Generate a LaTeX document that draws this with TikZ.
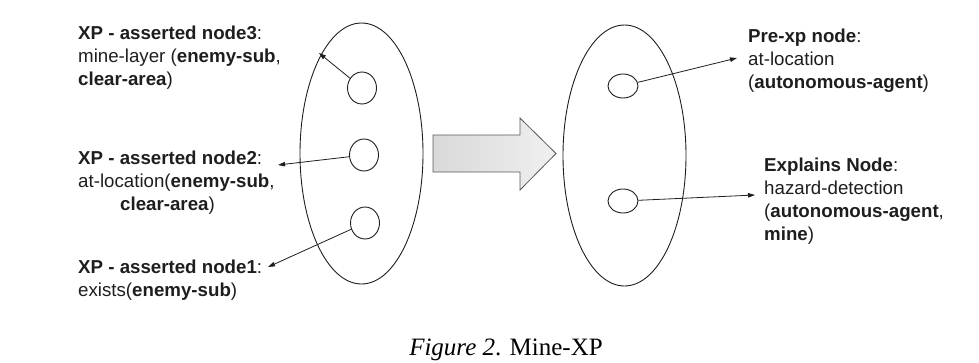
\documentclass[tikz,border=0pt]{standalone}
\usepackage{fontspec}
\setmainfont{Liberation Sans}
\newfontfamily\capfont{Liberation Serif}
\usetikzlibrary{shapes.geometric,arrows.meta}
\definecolor{ink}{HTML}{1E1E1E}
\tikzset{
  bigell/.style={ellipse,draw=ink,line width=0.9pt,inner sep=0pt,minimum width=123pt,minimum height=261pt},
  smallell/.style={ellipse,draw=ink,line width=0.9pt,inner sep=0pt},
  lbl/.style={anchor=north west,inner sep=0pt,align=left,text=ink,font=\fontsize{18.7}{23}\selectfont},
  conn/.style={draw=ink,line width=0.8pt,-{Triangle[length=7pt,width=4.5pt]}},
}
\begin{document}
\begin{tikzpicture}[x=1pt,y=-1pt]
\useasboundingbox (0,0) rectangle (979,362);
% big ellipses
\node[bigell] (L) at (361.5,153.5) {};
\node[bigell] (R) at (624.5,155.5) {};
% small ellipses
\node[smallell,minimum width=29pt,minimum height=32pt] (c3) at (362,88) {};
\node[smallell,minimum width=29pt,minimum height=32pt] (c2) at (364,155) {};
\node[smallell,minimum width=29pt,minimum height=32pt] (c1) at (365,223) {};
\node[smallell,minimum width=30pt,minimum height=24pt] (d1) at (623,86) {};
\node[smallell,minimum width=30pt,minimum height=24pt] (d2) at (623,201) {};
% labels
\node[lbl] (t3) at (78,26) {\textbf{XP - asserted node3}:\\mine-layer (\textbf{enemy-sub},\\\textbf{clear-area})};
\node[lbl] (t2) at (78,151) {\textbf{XP - asserted node2}:\\at-location(\textbf{enemy-sub},\\\hspace*{42pt}\textbf{clear-area})};
\node[lbl] (t1) at (78,260) {\textbf{XP - asserted node1}:\\exists(\textbf{enemy-sub})};
\node[lbl] (p) at (748,29) {\textbf{Pre-xp node}:\\at-location\\(\textbf{autonomous-agent})};
\node[lbl] (e) at (764,157.5) {\textbf{Explains Node}:\\hazard-detection\\(\textbf{autonomous-agent},\\\textbf{mine})};
% arrow end points
\coordinate (a3) at (319,53);
\coordinate (a2) at (278,165);
\coordinate (a1) at (268,267);
\coordinate (ap) at (737,58);
\coordinate (ae) at (755,195);
\draw[conn] (c3) -- (a3);
\draw[conn] (c2) -- (a2);
\draw[conn] (c1) -- (a1);
\draw[conn] (d1) -- (ap);
\draw[conn] (d2) -- (ae);
% block arrow
\shade[left color=gray!30,right color=gray!12,draw=gray!70!black,line width=0.8pt]
  (433,135) -- (520,135) -- (520,118) -- (556,153.5) -- (520,190) -- (520,172) -- (433,172) -- cycle;
% caption
\node[inner sep=0pt,anchor=base,font=\capfont\fontsize{25}{30}\selectfont,text=black] (cap) at (506,355) {\textit{Figure 2}. Mine-XP};
\end{tikzpicture}
\end{document}
